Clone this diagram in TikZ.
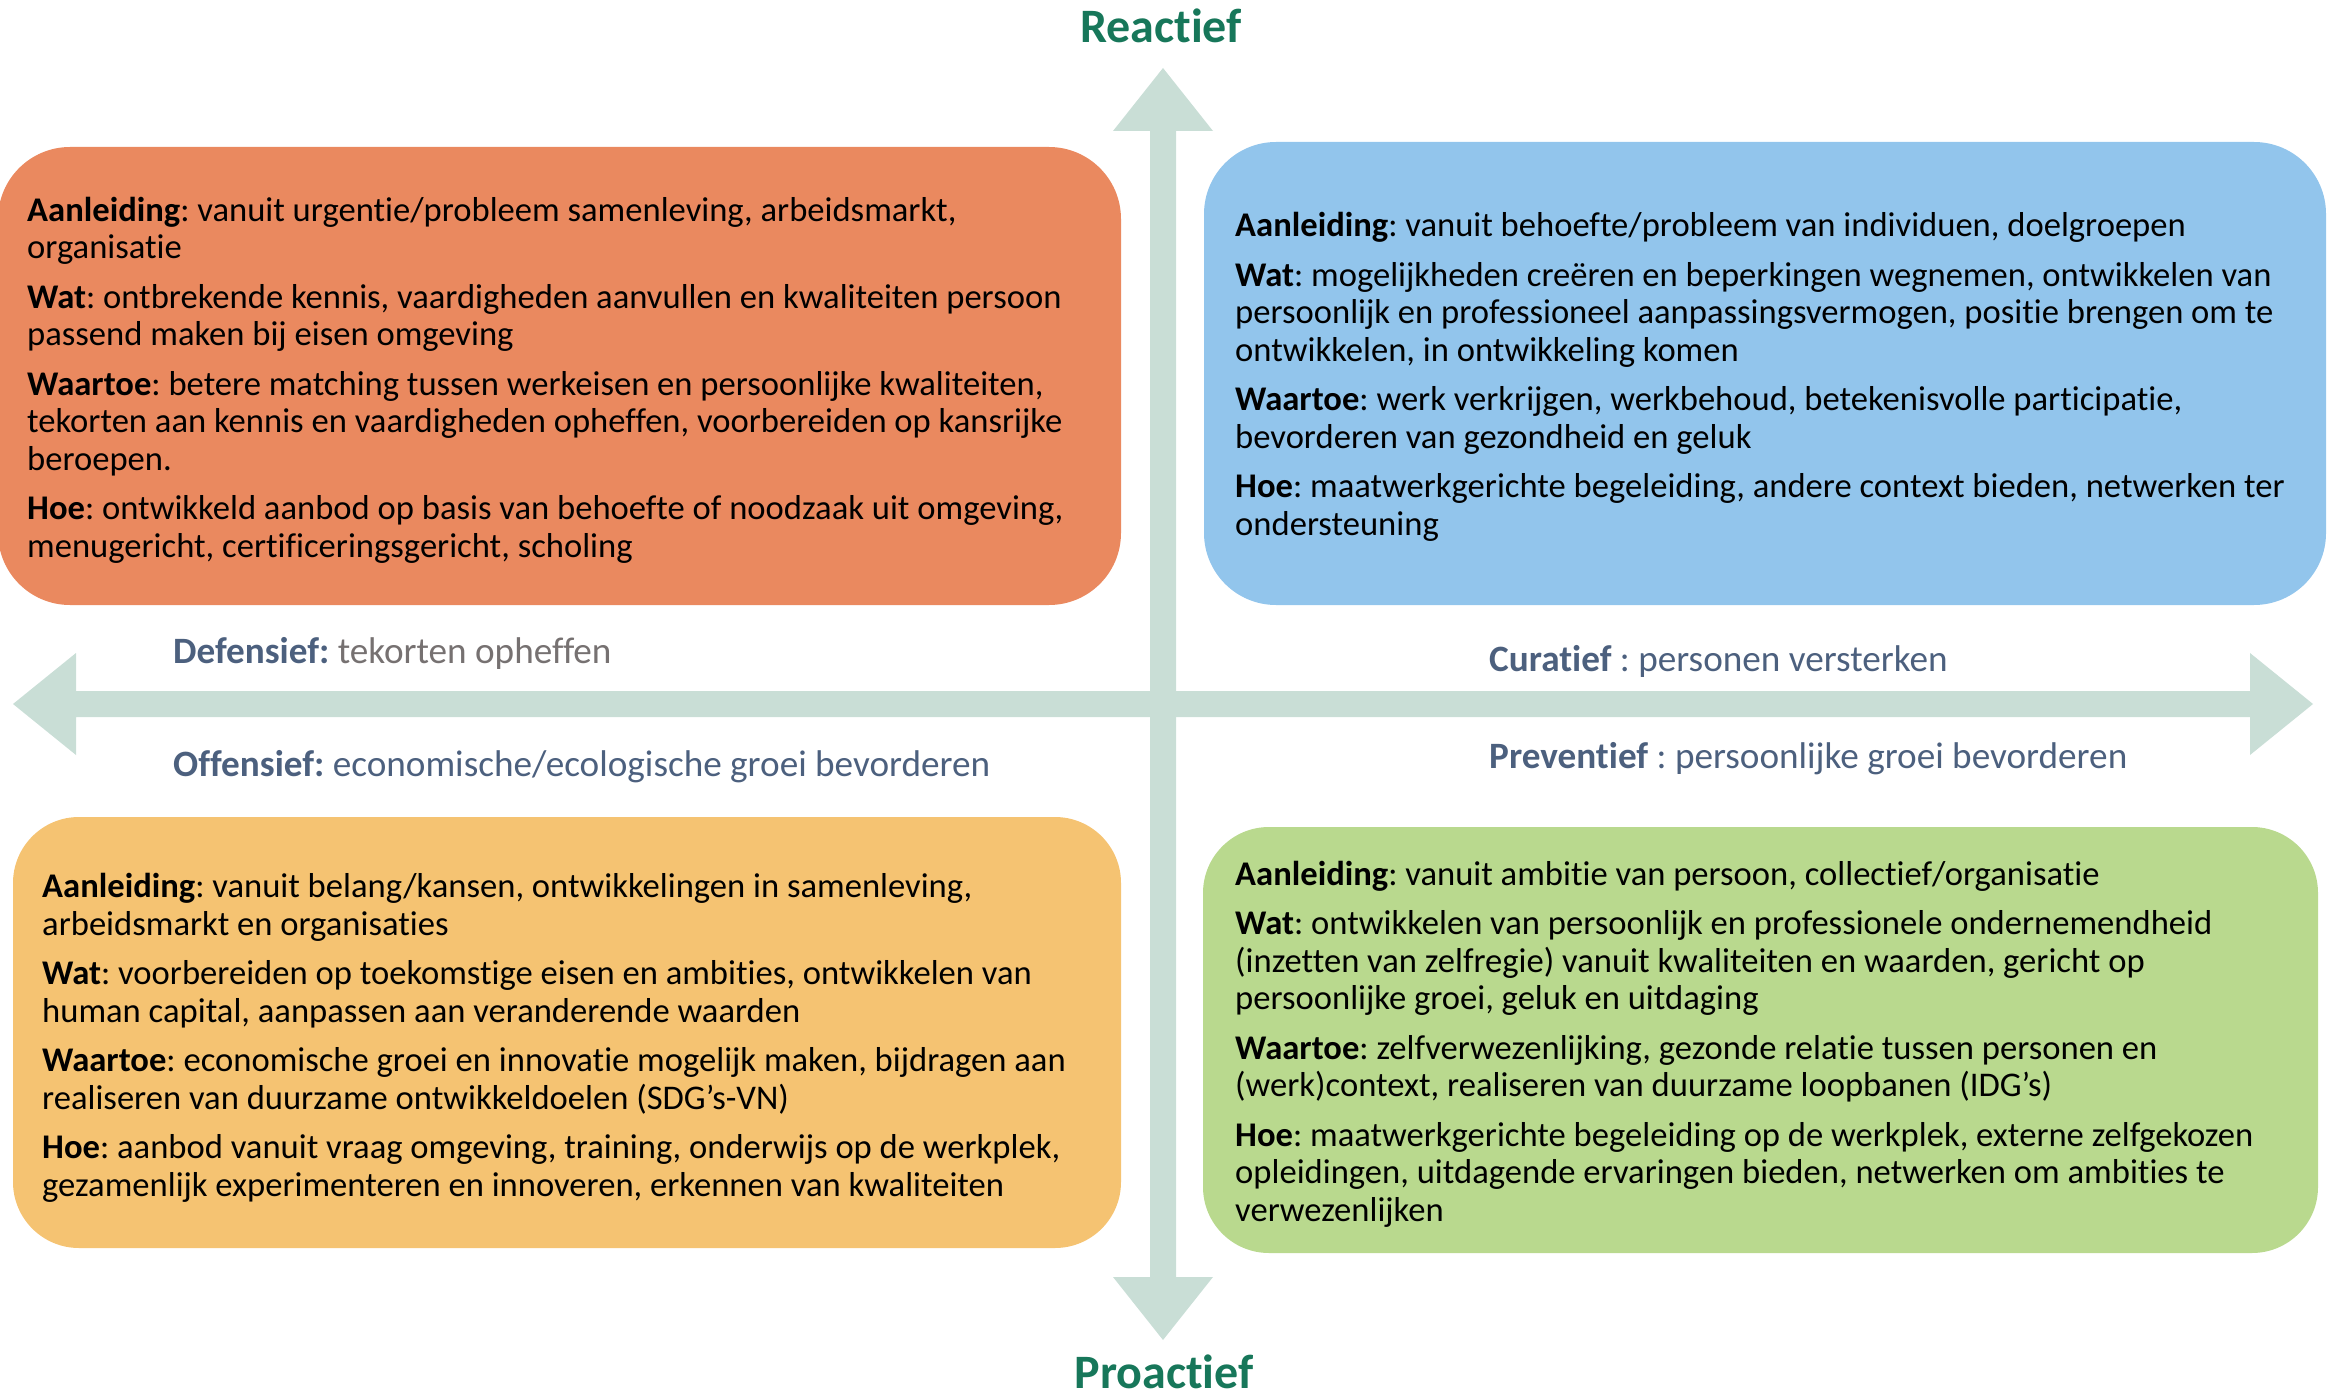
\documentclass[tikz,border=0pt]{standalone}
\usepackage{fontspec}
\setmainfont{Carlito}[Ligatures=NoCommon]
\definecolor{orangeC}{HTML}{EA895F}
\definecolor{blueC}{HTML}{92C5EC}
\definecolor{yellowC}{HTML}{F5C372}
\definecolor{greenC}{HTML}{B9D98E}
\definecolor{arrowC}{HTML}{C9DED6}
\definecolor{titleC}{HTML}{17775A}
\definecolor{labC}{HTML}{4C607E}
\definecolor{grayC}{HTML}{767171}
\frenchspacing
\begin{document}
\begin{tikzpicture}[x=1pt,y=-1pt,
  qbox/.style={rectangle, draw=none, inner sep=0pt},
  bodytxt/.style={inner sep=0pt, align=left, anchor=west, text=black,
    font=\fontsize{34.6}{37.5}\selectfont},
  axlab/.style={inner sep=0pt, anchor=base west, text=labC,
    font=\fontsize{37.2}{41}\selectfont},
  axtitle/.style={inner sep=0pt, anchor=base, text=titleC,
    font=\fontsize{48}{53}\selectfont\bfseries}
]
\useasboundingbox (0,0) rectangle (2338,1399);

% axes
\fill[arrowC] (1163,68) -- (1213,131) -- (1176,131) -- (1176,1277) -- (1213,1277)
  -- (1163,1340) -- (1113,1277) -- (1150,1277) -- (1150,131) -- (1113,131) -- cycle;
\fill[arrowC] (13,704) -- (76,653) -- (76,691) -- (2250,691) -- (2250,653)
  -- (2313,704) -- (2250,755) -- (2250,717) -- (76,717) -- (76,755) -- cycle;

% boxes
\node[qbox, fill=orangeC, rounded corners=72pt, minimum width=1123pt, minimum height=458pt] (orange) at (559.5,376) {};
\node[qbox, fill=blueC, rounded corners=72pt, minimum width=1122pt, minimum height=463pt] (blue) at (1765,373.5) {};
\node[qbox, fill=yellowC, rounded corners=66pt, minimum width=1108pt, minimum height=431pt] (yellow) at (567,1032.5) {};
\node[qbox, fill=greenC, rounded corners=66pt, minimum width=1115pt, minimum height=426pt] (green) at (1760.5,1040) {};

% box texts
\node[bodytxt] (orangeT) at (27,380) {\textbf{Aanleiding}: vanuit urgentie/probleem samenleving, arbeidsmarkt,\\
organisatie\\[12pt]
\textbf{Wat}: ontbrekende kennis, vaardigheden aanvullen en kwaliteiten persoon\\
passend maken bij eisen omgeving\\[12pt]
\textbf{Waartoe}: betere matching tussen werkeisen en persoonlijke kwaliteiten,\\
tekorten aan kennis en vaardigheden opheffen, voorbereiden op kansrijke\\
beroepen.\\[12pt]
\textbf{Hoe}: ontwikkeld aanbod op basis van behoefte of noodzaak uit omgeving,\\
menugericht, certificeringsgericht, scholing};

\node[bodytxt] (blueT) at (1235,377) {\textbf{Aanleiding}: vanuit behoefte/probleem van individuen, doelgroepen\\[12pt]
\textbf{Wat}: mogelijkheden creëren en beperkingen wegnemen, ontwikkelen van\\
persoonlijk en professioneel aanpassingsvermogen, positie brengen om te\\
ontwikkelen, in ontwikkeling komen\\[12pt]
\textbf{Waartoe}: werk verkrijgen, werkbehoud, betekenisvolle participatie,\\
bevorderen van gezondheid en geluk\\[12pt]
\textbf{Hoe}: maatwerkgerichte begeleiding, andere context bieden, netwerken ter\\
ondersteuning};

\node[bodytxt] (yellowT) at (42,1038) {\textbf{Aanleiding}: vanuit belang/kansen, ontwikkelingen in samenleving,\\
arbeidsmarkt en organisaties\\[12pt]
\textbf{Wat}: voorbereiden op toekomstige eisen en ambities, ontwikkelen van\\
human capital, aanpassen aan veranderende waarden\\[12pt]
\textbf{Waartoe}: economische groei en innovatie mogelijk maken, bijdragen aan\\
realiseren van duurzame ontwikkeldoelen (SDG’s-VN)\\[12pt]
\textbf{Hoe}: aanbod vanuit vraag omgeving, training, onderwijs op de werkplek,\\
gezamenlijk experimenteren en innoveren, erkennen van kwaliteiten};

\node[bodytxt] (greenT) at (1235,1044) {\textbf{Aanleiding}: vanuit ambitie van persoon, collectief/organisatie\\[12pt]
\textbf{Wat}: ontwikkelen van persoonlijk en professionele ondernemendheid\\
(inzetten van zelfregie) vanuit kwaliteiten en waarden, gericht op\\
persoonlijke groei, geluk en uitdaging\\[12pt]
\textbf{Waartoe}: zelfverwezenlijking, gezonde relatie tussen personen en\\
(werk)context, realiseren van duurzame loopbanen (IDG’s)\\[12pt]
\textbf{Hoe}: maatwerkgerichte begeleiding op de werkplek, externe zelfgekozen\\
opleidingen, uitdagende ervaringen bieden, netwerken om ambities te\\
verwezenlijken};

% axis labels
\node[axlab] (def) at (173,663) {\textbf{Defensief:} \textcolor{grayC}{tekorten opheffen}};
\node[axlab] (off) at (173,776) {\textbf{Offensief:} economische/ecologische groei bevorderen};
\node[axlab] (cur) at (1489,671) {\textbf{Curatief} : personen versterken};
\node[axlab] (prev) at (1489,768) {\textbf{Preventief} : persoonlijke groei bevorderen};

% titles
\node[axtitle] (reac) at (1161,43) {Reactief};
\node[axtitle] (proa) at (1164,1388) {Proactief};
\end{tikzpicture}
\end{document}
